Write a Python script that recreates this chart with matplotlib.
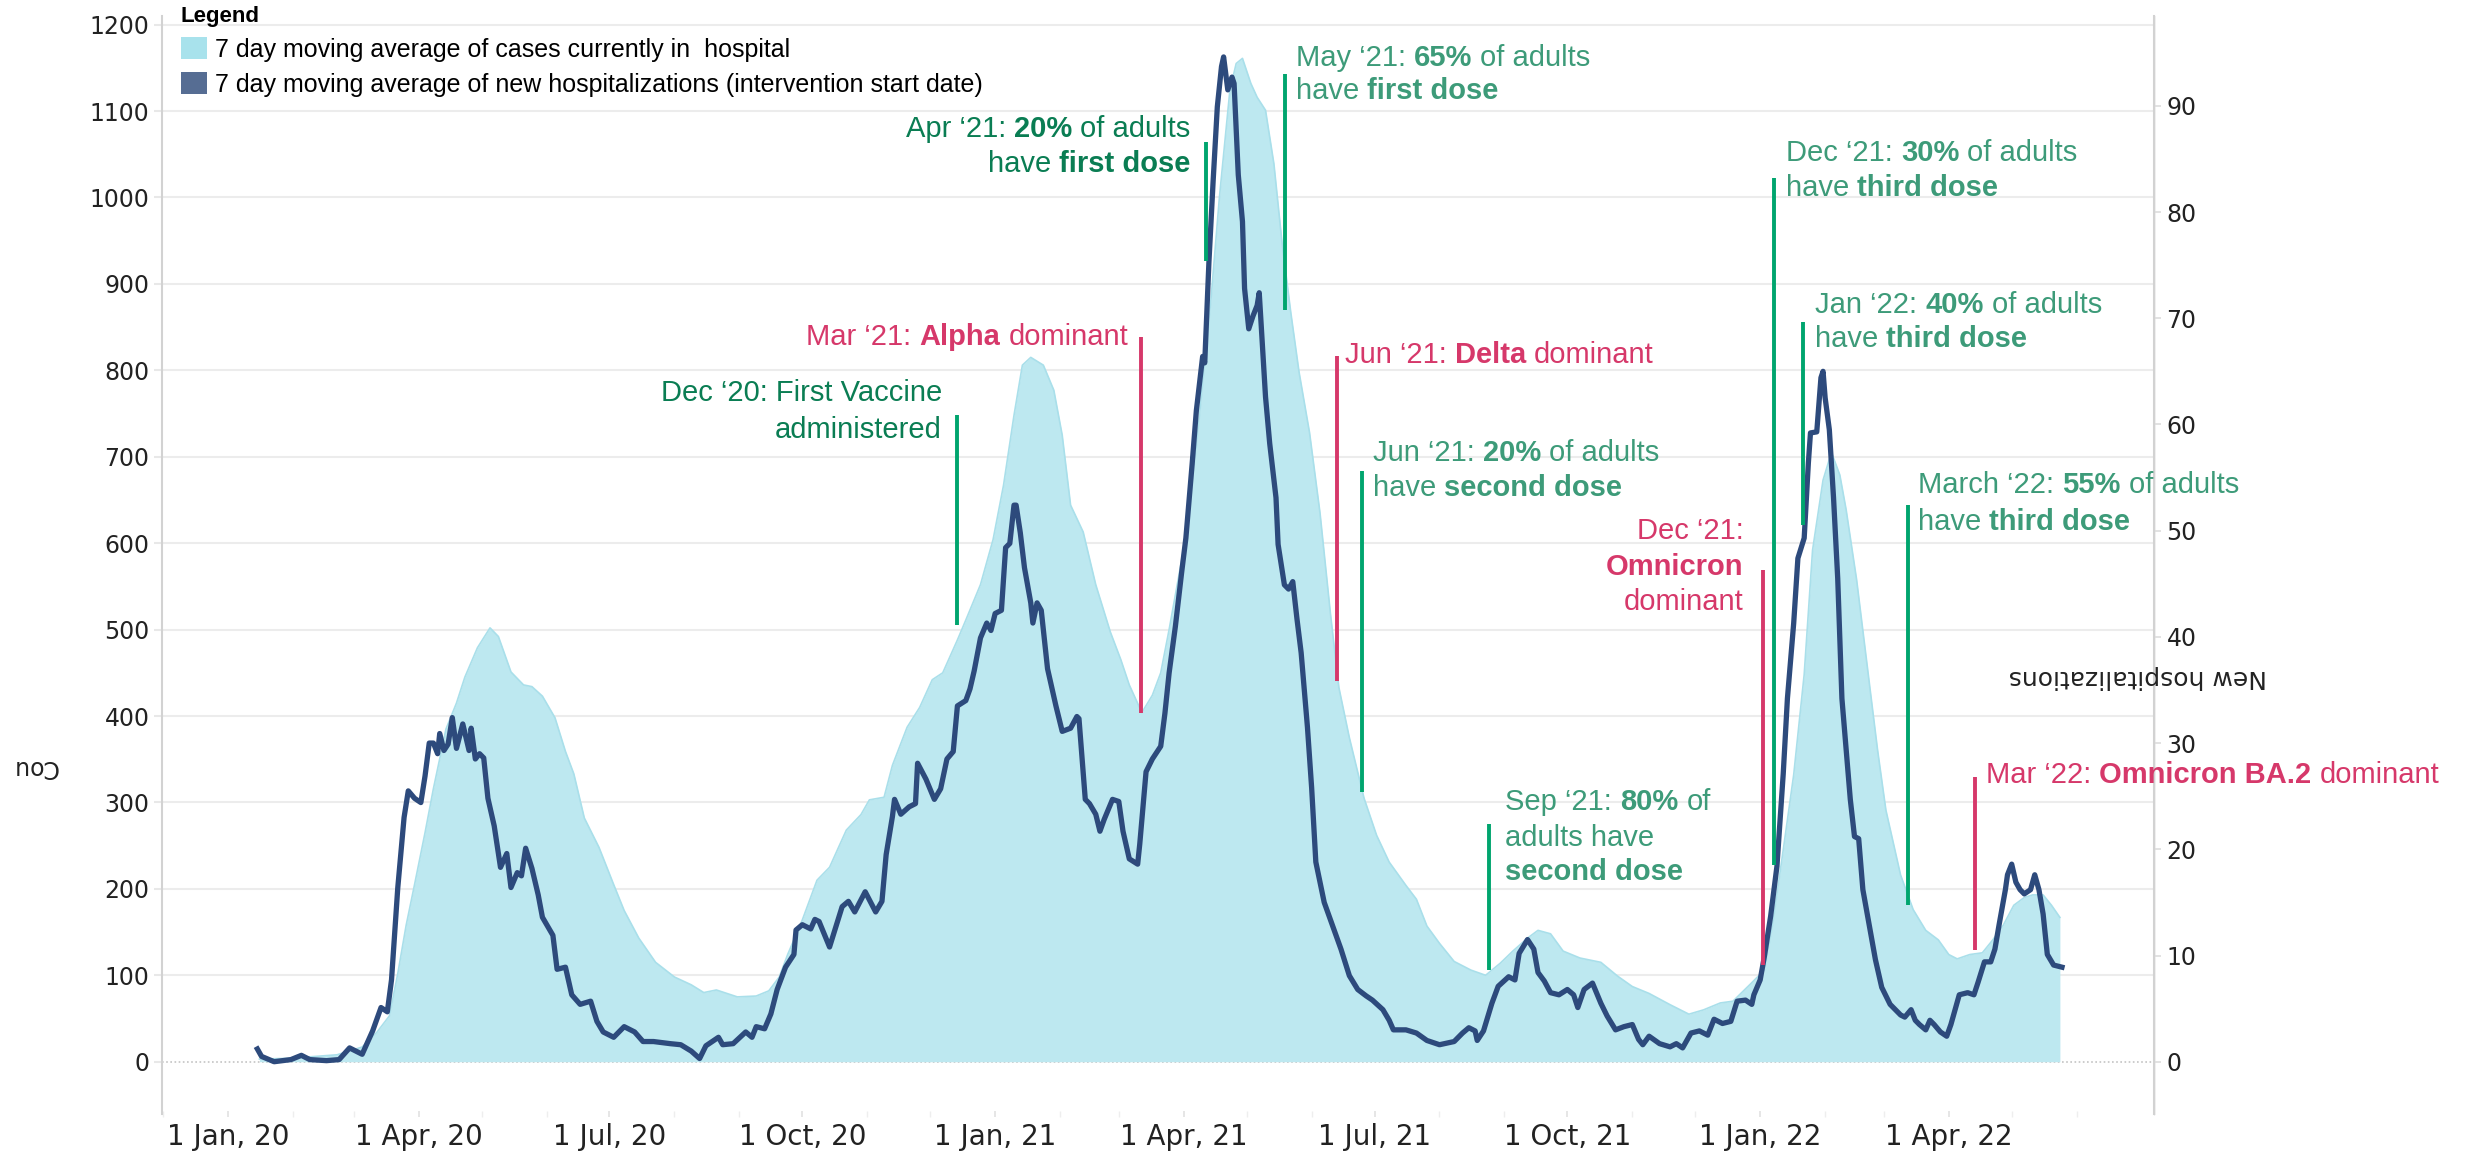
import numpy as np
import pandas as pd
import matplotlib
matplotlib.use("Agg")
import matplotlib.pyplot as plt
import matplotlib.dates as mdates
from matplotlib.patches import Patch
from matplotlib.ticker import FuncFormatter, FixedLocator

START = pd.Timestamp("2020-01-01")

# 7 day average of cases currently in hospital (left axis), days since 1 Jan 2020
hosp_days = [15, 30, 52, 64, 71, 77, 81, 85, 89, 94, 98, 104, 109, 113, 119, 125, 129, 135, 141, 145,
             150, 156, 161, 165, 170, 177, 184, 189, 196, 204, 213, 221, 227, 233, 238, 243, 252, 258,
             263, 267, 274, 281, 287, 295, 302, 306, 313, 317, 324, 330, 336, 341, 348, 352, 359, 365,
             370, 375, 379, 383, 389, 394, 398, 402, 408, 414, 421, 426, 430, 436, 441, 445, 449, 456,
             462, 469, 473, 478, 481, 484, 488, 491, 495, 499, 503, 507, 511, 516, 521, 526, 530, 535,
             542, 548, 554, 562, 567, 572, 578, 585, 593, 600, 607, 613, 620, 625, 631, 637, 645, 655,
             663, 670, 678, 688, 697, 704, 712, 718, 726, 733, 737, 742, 747, 752, 756, 761, 765, 769,
             772, 777, 782, 787, 791, 798, 804, 810, 816, 821, 825, 831, 837, 842, 847, 852, 857, 861,
             866, 870, 874]
hosp_cases = [3, 4, 8, 17, 34, 53, 102, 158, 205, 265, 316, 385, 415, 445, 479, 502, 492, 451, 436, 434,
              423, 398, 359, 333, 282, 248, 205, 175, 143, 115, 98, 89, 80, 83, 79, 75, 76, 82,
              98, 124, 164, 210, 225, 268, 286, 303, 306, 343, 387, 410, 442, 450, 488, 511, 552, 604,
              667, 748, 806, 815, 806, 777, 725, 644, 613, 552, 497, 465, 436, 404, 424, 450, 500, 594,
              712, 883, 1000, 1124, 1155, 1161, 1132, 1116, 1101, 1039, 945, 868, 798, 728, 635, 518, 433, 375,
              305, 262, 231, 204, 188, 157, 137, 116, 106, 100, 114, 128, 143, 152, 148, 128, 120, 115,
              99, 87, 79, 66, 55, 60, 68, 70, 89, 106, 160, 245, 332, 448, 592, 673, 705, 679,
              639, 558, 459, 361, 291, 216, 176, 152, 141, 124, 119, 124, 126, 141, 158, 181, 190, 193,
              193, 181, 167]

# 7 day average of new hospitalizations (right axis)
new_days = [14, 16, 22, 30, 35, 39, 47, 53, 58, 64, 69, 73, 76, 78, 81, 84, 86, 89, 92, 94,
            96, 98, 100, 101, 103, 105, 107, 109, 112, 115, 116, 118, 120, 122, 124, 127, 130, 133, 135, 138,
            140, 142, 145, 148, 150, 155, 157, 161, 164, 168, 173, 176, 179, 184, 189, 194, 198, 203, 211, 216,
            221, 225, 228, 234, 236, 241, 247, 250, 252, 256, 259, 262, 266, 270, 271, 274, 278, 280, 282, 287,
            293, 296, 299, 304, 309, 312, 314, 317, 318, 321, 325, 328, 329, 333, 337, 340, 343, 346, 348, 352,
            354, 356, 359, 362, 364, 366, 369, 371, 373, 375, 376, 378, 380, 383, 384, 386, 388, 391, 395, 398,
            402, 405, 406, 409, 411, 414, 416, 418, 422, 425, 427, 430, 434, 435, 438, 441, 445, 447, 449, 452,
            455, 457, 460, 462, 465, 466, 468, 470, 472, 474, 475, 477, 479, 480, 482, 484, 485, 487, 489, 491,
            492, 495, 497, 500, 501, 504, 506, 508, 510, 512, 515, 517, 519, 523, 527, 531, 535, 539, 543, 546,
            551, 554, 556, 562, 567, 572, 578, 585, 589, 592, 595, 596, 599, 603, 606, 611, 614, 616, 620, 623,
            625, 628, 631, 635, 639, 642, 644, 647, 651, 655, 658, 662, 666, 670, 673, 675, 678, 683, 688, 691,
            694, 698, 702, 706, 709, 713, 717, 720, 724, 727, 728, 731, 733, 736, 739, 742, 744, 747, 749, 752,
            754, 755, 758, 760, 761, 762, 764, 766, 768, 770, 772, 774, 776, 778, 780, 783, 786, 789, 793, 798,
            800, 803, 805, 807, 810, 812, 814, 817, 820, 822, 826, 830, 833, 835, 838, 841, 843, 845, 848, 849,
            851, 853, 855, 857, 860, 862, 864, 866, 868, 871, 875]
new_hosp = [1.2, 0.5, 0.0, 0.2, 0.6, 0.2, 0.1, 0.2, 1.3, 0.7, 2.9, 5.1, 4.7, 7.7, 16.4, 23.0, 25.5, 24.8, 24.4, 26.9,
            30.0, 30.0, 29.0, 30.9, 29.3, 29.9, 32.4, 29.5, 31.8, 29.3, 31.4, 28.5, 29.0, 28.6, 24.8, 22.2, 18.3, 19.6, 16.4, 17.8,
            17.5, 20.1, 18.2, 15.7, 13.6, 11.9, 8.7, 8.9, 6.3, 5.4, 5.7, 3.8, 2.8, 2.3, 3.3, 2.8, 1.9, 1.9, 1.7, 1.6,
            1.0, 0.3, 1.5, 2.3, 1.6, 1.7, 2.8, 2.3, 3.3, 3.1, 4.5, 6.8, 8.9, 10.1, 12.4, 12.9, 12.5, 13.4, 13.2, 10.8,
            14.6, 15.1, 14.1, 16.0, 14.1, 15.1, 19.5, 23.1, 24.7, 23.3, 24.0, 24.3, 28.1, 26.6, 24.7, 25.7, 28.5, 29.2, 33.5, 34.0,
            35.1, 36.8, 39.9, 41.3, 40.6, 42.2, 42.5, 48.4, 48.8, 52.4, 52.4, 49.8, 46.5, 43.2, 41.3, 43.2, 42.5, 37.0, 33.5, 31.1,
            31.4, 32.5, 32.3, 24.7, 24.3, 23.3, 21.7, 22.8, 24.7, 24.5, 21.7, 19.1, 18.6, 20.5, 27.3, 28.5, 29.7, 32.8, 36.6, 41.0,
            46.1, 49.3, 56.3, 61.3, 66.4, 65.8, 75.3, 82.9, 89.9, 93.7, 94.6, 91.5, 92.7, 92.1, 83.5, 79.1, 72.8, 69.0, 70.2, 71.2,
            72.4, 62.6, 58.2, 53.1, 48.7, 44.9, 44.5, 45.2, 41.7, 38.5, 31.5, 25.8, 18.8, 15.0, 12.8, 10.6, 8.1, 6.8, 6.2, 5.8,
            4.9, 3.9, 3.0, 3.0, 2.7, 2.0, 1.6, 1.9, 2.7, 3.2, 2.9, 2.0, 2.9, 5.5, 7.1, 8.0, 7.7, 10.2, 11.5, 10.6,
            8.4, 7.6, 6.5, 6.3, 6.8, 6.3, 5.1, 6.8, 7.4, 5.5, 4.3, 3.0, 3.3, 3.5, 2.1, 1.6, 2.4, 1.7, 1.4, 1.7,
            1.3, 2.7, 2.9, 2.5, 4.0, 3.6, 3.8, 5.7, 5.8, 5.4, 6.3, 7.7, 9.9, 13.7, 18.4, 27.1, 34.2, 41.3, 47.4, 49.3,
            56.4, 59.2, 59.3, 64.4, 65.0, 62.5, 59.5, 53.1, 45.5, 34.2, 29.5, 24.7, 21.2, 21.0, 16.2, 12.9, 9.6, 7.0, 5.4, 4.4,
            4.2, 4.9, 3.9, 3.5, 3.0, 3.9, 3.5, 2.8, 2.4, 3.5, 6.3, 6.5, 6.3, 7.5, 9.4, 9.4, 10.6, 12.9, 16.2, 17.6,
            18.6, 16.9, 16.2, 15.8, 16.2, 17.6, 16.2, 13.9, 10.1, 9.1, 8.9]

left_ticks = list(range(0, 1300, 100))
right_ticks = list(range(0, 100, 10))
quarter_ticks = pd.date_range("2020-01-01", "2022-04-01", freq="QS")
month_ticks = pd.date_range("2019-12-01", "2022-06-01", freq="MS")

# event markers: day, bottom / top (left axis units), kind
marker_days = [347.6, 435.4, 466.5, 504.4, 529.0, 541.2, 601.7, 732.5, 737.8, 751.5, 801.7, 833.5]
marker_lo = [505, 404, 926, 870, 440, 312, 106, 112, 228, 621, 181, 129]
marker_hi = [748, 838, 1064, 1143, 817, 683, 275, 569, 1022, 856, 644, 329]
marker_kind = ["vax", "var", "vax", "vax", "var", "vax", "vax", "var", "vax", "vax", "vax", "var"]

GREEN_LINE = "#00a56e"
GREEN_TEXT = "#3d9b79"
GREEN_DARK = "#0a7d53"
RED = "#d6386a"
FILL = "#bde8f0"
FILL_EDGE = "#a9dfea"
NAVY = "#2d4a7c"

# (x day, alignment, colour, [(y, [(text, bold), ...]), ...])
notes = [
    (340.6, "right", GREEN_DARK, [(774, [("Dec \u201820: First Vaccine", False)]),
                                  (731, [("administered", False)])]),
    (429.4, "right", RED, [(838, [("Mar \u201821: ", False), ("Alpha", True), (" dominant", False)])]),
    (459.3, "right", GREEN_DARK, [(1079.5, [("Apr \u201821: ", False), ("20%", True), (" of adults", False)]),
                                  (1039, [("have ", False), ("first dose", True)])]),
    (509.4, "left", GREEN_TEXT, [(1161.7, [("May \u201821: ", False), ("65%", True), (" of adults", False)]),
                                 (1122.7, [("have ", False), ("first dose", True)])]),
    (532.9, "left", RED, [(818, [("Jun \u201821: ", False), ("Delta", True), (" dominant", False)])]),
    (546.3, "left", GREEN_TEXT, [(704.7, [("Jun \u201821: ", False), ("20%", True), (" of adults", False)]),
                                 (664, [("have ", False), ("second dose", True)])]),
    (609.3, "left", GREEN_TEXT, [(301, [("Sep \u201821: ", False), ("80%", True), (" of", False)]),
                                 (259, [("adults have", False)]),
                                 (220, [("second dose", True)])]),
    (723.0, "right", RED, [(614, [("Dec \u201821:", False)]),
                           (572.5, [("Omnicron", True)]),
                           (532, [("dominant", False)])]),
    (743.3, "left", GREEN_TEXT, [(1051.4, [("Dec \u201821: ", False), ("30%", True), (" of adults", False)]),
                                 (1010.9, [("have ", False), ("third dose", True)])]),
    (757.2, "left", GREEN_TEXT, [(875.8, [("Jan \u201822: ", False), ("40%", True), (" of adults", False)]),
                                 (836.5, [("have ", False), ("third dose", True)])]),
    (806.3, "left", GREEN_TEXT, [(667.5, [("March \u201822: ", False), ("55%", True), (" of adults", False)]),
                                 (625, [("have ", False), ("third dose", True)])]),
    (838.7, "left", RED, [(331.8, [("Mar \u201822: ", False), ("Omnicron BA.2", True), (" dominant", False)])]),
]

ANNOT_FONT = "Liberation Sans"
ANNOT_SIZE = 21


def text_line(host, trans, x, y, parts, color, ha):
    pieces = []
    for i, (s, bold) in enumerate(parts):
        gap = s.startswith(" ") or (i > 0 and parts[i - 1][0].endswith(" "))
        pieces.append((s.strip(), bold, gap))
    space = 0.278 * ANNOT_SIZE
    kw = dict(color=color, fontsize=ANNOT_SIZE, family=ANNOT_FONT, zorder=7)
    if ha == "left":
        prev = None
        for s, bold, gap in pieces:
            w = "bold" if bold else "normal"
            if prev is None:
                prev = host.text(x, y, s, transform=trans, ha="left", va="center", fontweight=w, **kw)
            else:
                prev = host.annotate(s, xy=(1, 0), xycoords=prev, xytext=(space if gap else 0, 0),
                                     textcoords="offset points", ha="left", va="bottom", fontweight=w, **kw)
    else:
        nxt = None
        nxt_gap = False
        for s, bold, gap in reversed(pieces):
            w = "bold" if bold else "normal"
            if nxt is None:
                nxt = host.text(x, y, s, transform=trans, ha="right", va="center", fontweight=w, **kw)
            else:
                nxt = host.annotate(s, xy=(0, 0), xycoords=nxt, xytext=(-space if nxt_gap else 0, 0),
                                    textcoords="offset points", ha="right", va="bottom", fontweight=w, **kw)
            nxt_gap = gap


hosp_dates = START + pd.to_timedelta(hosp_days, unit="D")
new_dates = START + pd.to_timedelta(new_days, unit="D")
x0 = mdates.date2num(START)

plt.rcParams["font.family"] = ["DejaVu Sans"]

fig = plt.figure(figsize=(24.71, 11.52), dpi=100)
ax = fig.add_axes([162 / 2471, 38 / 1152, 1992 / 2471, 1098 / 1152])
ax2 = ax.twinx()

# gridlines
for v in left_ticks[1:]:
    ax.axhline(v, color="#ececec", lw=1.5, zorder=0.5)
ax.axhline(0, color="#c4c4c4", lw=1.2, ls=(0, (1, 1.5)), zorder=0.6)

ax.fill_between(hosp_dates, hosp_cases, 0, color=FILL, lw=0, zorder=2)
ax.plot(hosp_dates, hosp_cases, color=FILL_EDGE, lw=1.2, zorder=2.1)

ax2.plot(new_dates, new_hosp, color=NAVY, lw=3.8, solid_joinstyle="round", zorder=3)

LEFT_MAX = 1210
LEFT_MIN = -60.5
RATIO = 12.29
ax.set_xlim(x0 - 31.5, x0 + 918.9)
ax.set_ylim(LEFT_MIN, LEFT_MAX)
ax2.set_ylim(LEFT_MIN / RATIO, LEFT_MAX / RATIO)

# event markers and labels
for d, lo, hi, kind in zip(marker_days, marker_lo, marker_hi, marker_kind):
    ax2.plot([x0 + d, x0 + d], [lo, hi], transform=ax.transData,
             color=GREEN_LINE if kind == "vax" else RED, lw=2.8, solid_capstyle="butt", zorder=6)

for xd, ha, color, lines in notes:
    for y, parts in lines:
        text_line(ax2, ax.transData, x0 + xd, y, parts, color, ha)

# axes styling
ax.set_yticks(left_ticks)
ax2.set_yticks(right_ticks)
ax.xaxis.set_major_locator(FixedLocator(mdates.date2num(quarter_ticks)))
ax.xaxis.set_minor_locator(FixedLocator(mdates.date2num(month_ticks)))
ax.xaxis.set_major_formatter(FuncFormatter(
    lambda v, p: "1 {}".format(mdates.num2date(v).strftime("%b, %y"))))

for a in (ax, ax2):
    for s in ("top", "bottom"):
        a.spines[s].set_visible(False)
ax2.spines["left"].set_visible(False)
ax.spines["left"].set_color("#d2d2d2")
ax.spines["left"].set_linewidth(1.5)
ax2.spines["right"].set_color("#d2d2d2")
ax2.spines["right"].set_linewidth(1.5)

ax.tick_params(axis="y", length=6, width=1.5, color="#e8e8e8", pad=3, labelsize=17, labelcolor="#222222")
ax2.tick_params(axis="y", length=5, width=1.2, color="#dddddd", pad=4, labelsize=17, labelcolor="#222222")
ax.tick_params(axis="x", which="major", length=5, width=1.2, direction="inout", color="#e2e2e2",
               pad=4, labelsize=20, labelcolor="#222222")
ax.tick_params(axis="x", which="minor", length=4, width=1.0, direction="inout", color="#eeeeee")

ax.text(-0.0638, 0.316, "Cou", rotation=180, transform=ax.transAxes, ha="center", va="center",
        fontsize=17, color="#222222")
ax2.text(0.992, 0.398, "New hospitalizations", rotation=180, transform=ax.transAxes, ha="center",
         va="center", fontsize=18, color="#222222", zorder=8)

handles = [Patch(facecolor="#a8e2ec", label="7 day moving average of cases currently in  hospital"),
           Patch(facecolor="#566d93", label="7 day moving average of new hospitalizations (intervention start date)")]
leg = ax2.legend(handles=handles, title="Legend", loc="upper left", bbox_to_anchor=(0.0095, 1.009),
                 frameon=False, alignment="left", prop={"family": ANNOT_FONT, "size": 18},
                 title_fontproperties={"family": ANNOT_FONT, "size": 16, "weight": "bold"},
                 handlelength=1.05, handleheight=1.0, handletextpad=0.3, labelspacing=0.4,
                 borderpad=0, borderaxespad=0)

fig.savefig("out.png", dpi=100)
